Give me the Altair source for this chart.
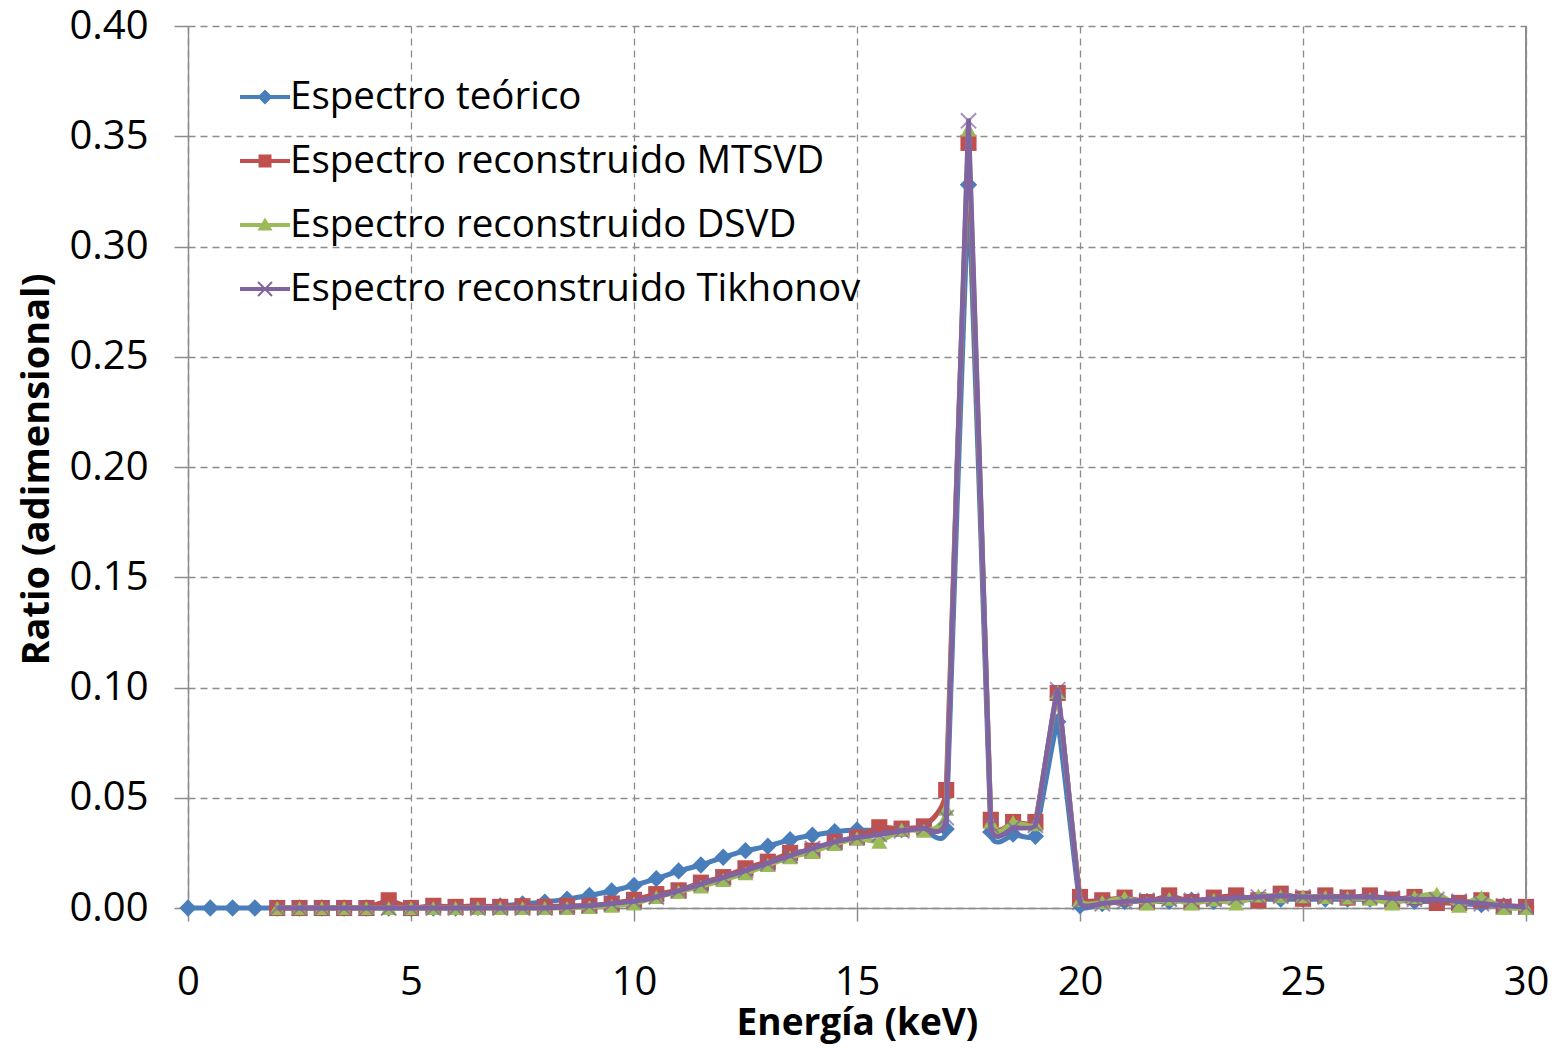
import altair as alt
import pandas as pd

# ---------------- data ----------------
energy = [i * 0.5 for i in range(61)]  # 0 .. 30 keV

teorico = [0, 0, 0, 0, 0, 0, 0, 0, 0, 0,
           0, 0, 0, 0.0003, 0.001, 0.0018, 0.0027, 0.004, 0.0057, 0.0077,
           0.0102, 0.0133, 0.0168, 0.0195, 0.023, 0.026, 0.028, 0.031, 0.033, 0.0346,
           0.0354, 0.0352, 0.0356, 0.036, 0.0358, 0.328, 0.0345, 0.0335, 0.0325, 0.0845,
           0.001, 0.002, 0.003, 0.003, 0.003, 0.0035, 0.003, 0.0035, 0.004, 0.004,
           0.004, 0.004, 0.004, 0.004, 0.0035, 0.003, 0.003, 0.002, 0.0015, 0.001,
           0.0005]

mtsvd = [None, None, None, None, 0, 0, 0, 0, 0, 0.0035,
         0, 0.001, 0.0005, 0.001, 0.0005, 0.0008, 0.0005, 0.001, 0.001, 0.002,
         0.0037, 0.0063, 0.008, 0.0115, 0.014, 0.018, 0.021, 0.025, 0.026, 0.030,
         0.032, 0.0366, 0.036, 0.037, 0.0535, 0.347, 0.040, 0.039, 0.039, 0.0975,
         0.005, 0.0035, 0.0047, 0.0027, 0.0057, 0.0027, 0.0047, 0.0057, 0.0035, 0.0065,
         0.0042, 0.0057, 0.0047, 0.0057, 0.0038, 0.005, 0.0023, 0.0023, 0.0035, 0.0005,
         0.0005]

dsvd = [None, None, None, None, 0, 0, 0, 0, 0, 0,
        0, 0, 0, 0, 0, 0, 0, 0, 0.0005, 0.001,
        0.002, 0.005, 0.0074, 0.0097, 0.0127, 0.0157, 0.0195, 0.023, 0.0255, 0.029,
        0.0316, 0.030, 0.0356, 0.035, 0.045, 0.353, 0.039, 0.039, 0.038, 0.098,
        0.0036, 0.0027, 0.0047, 0.002, 0.0042, 0.002, 0.0038, 0.002, 0.0057, 0.0053,
        0.0053, 0.005, 0.0047, 0.0042, 0.002, 0.005, 0.0065, 0.001, 0.005, 0.0,
        0.0]

tikhonov = [None, None, None, None, 0, 0, 0, 0, 0, 0,
            0, 0, 0, 0, 0, 0, 0, 0.0005, 0.001, 0.002,
            0.003, 0.005, 0.0078, 0.0108, 0.0138, 0.017, 0.0203, 0.0238, 0.027, 0.030,
            0.032, 0.0333, 0.035, 0.0362, 0.041, 0.357, 0.0375, 0.0365, 0.0375, 0.099,
            0.0025, 0.002, 0.003, 0.0035, 0.004, 0.0035, 0.004, 0.0045, 0.005, 0.0055,
            0.005, 0.005, 0.005, 0.005, 0.0045, 0.004, 0.0038, 0.003, 0.002, 0.001,
            0.0005]

series_names = ["Espectro teórico", "Espectro reconstruido MTSVD",
                "Espectro reconstruido DSVD", "Espectro reconstruido Tikhonov"]
series_values = [teorico, mtsvd, dsvd, tikhonov]
y_ticks = [0, 0.05, 0.10, 0.15, 0.20, 0.25, 0.30, 0.35, 0.40]
x_ticks = [0, 5, 10, 15, 20, 25, 30]

# ---------------- styles ----------------
colors = ["#4A7EBB", "#C0504D", "#9BBB59", "#8064A2"]
marker_shapes = ["diamond", "square", "triangle-up", "M-1,-1L1,1M-1,1L1,-1"]
marker_sizes = [300, 260, 260, 230]

LINE = "M-1,-0.08L1,-0.08L1,0.08L-1,0.08Z"
legend_paths = [
    LINE + " M0,-0.3L0.3,0L0,0.3L-0.3,0Z",
    LINE + " M-0.26,-0.26L0.26,-0.26L0.26,0.26L-0.26,0.26Z",
    LINE + " M0,-0.3L0.3,0.22L-0.3,0.22Z",
    LINE + " M-0.252,-0.308L0.308,0.252L0.252,0.308L-0.308,-0.252Z"
           " M-0.252,0.308L-0.308,0.252L0.252,-0.308L0.308,-0.252Z",
]

rows = []
for name, vals in zip(series_names, series_values):
    for e, v in zip(energy, vals):
        if v is not None:
            rows.append({"Energia": e, "Ratio": v, "Serie": name})
df = pd.DataFrame(rows)

FONT = "Open Sans"
W, H = 1338, 882

x_enc = alt.X("Energia:Q", scale=alt.Scale(domain=[0, 30], nice=False),
              axis=alt.Axis(values=x_ticks, title="Energía (keV)", format="d",
                            tickSize=13, labelPadding=41, labelFlush=False,
                            titleX=W / 2, titleY=126, titleBaseline="alphabetic",
                            titleAlign="center"))
y_enc = alt.Y("Ratio:Q", scale=alt.Scale(domain=[0, 0.4], nice=False),
              axis=alt.Axis(values=y_ticks, format=".2f", title="Ratio (adimensional)",
                            tickSize=14, labelPadding=26, labelFlush=False,
                            titleX=-151, titleY=H / 2 + 2, titleAngle=270,
                            titleFontSize=38,
                            titleAlign="center", titleBaseline="middle"))

base = alt.Chart(df)
layers = []
for name, col, shp, sz in zip(series_names, colors, marker_shapes, marker_sizes):
    sub = base.transform_filter(alt.datum.Serie == name)
    layers.append(sub.mark_line(interpolate="cardinal", tension=0.8, strokeWidth=5, color=col)
                  .encode(x=x_enc, y=y_enc))
    if shp.startswith("M"):
        pts = sub.mark_point(shape=shp, filled=False, size=sz, stroke=col, strokeWidth=2)
    else:
        pts = sub.mark_point(shape=shp, filled=True, size=sz, color=col, opacity=1)
    layers.append(pts.encode(x=x_enc, y=y_enc))

# right border of plot area
border = alt.Chart(df).mark_rule(color="#8C8C8C", strokeWidth=1.5).encode(
    x=alt.datum(30), y=alt.value(0), y2=alt.value(H))

# legend-only layer (no visible data)
legend_layer = alt.Chart(df).transform_filter("false").mark_point(
    filled=True, size=2500, opacity=1).encode(
    x=x_enc, y=y_enc,
    color=alt.Color("Serie:N", scale=alt.Scale(domain=series_names, range=colors),
                    legend=alt.Legend(title=None, orient="none", legendX=52, legendY=46,
                                      direction="vertical")),
    shape=alt.Shape("Serie:N", scale=alt.Scale(domain=series_names, range=legend_paths),
                    legend=alt.Legend(title=None, orient="none", legendX=52, legendY=46,
                                      direction="vertical")),
)

chart = alt.layer(*layers, border, legend_layer).properties(
    width=W, height=H,
    autosize=alt.AutoSizeParams(type="none"),
    padding={"left": 188, "top": 26, "right": 29, "bottom": 140},
).configure_view(stroke=None).configure_axis(
    labelFont=FONT, labelFontSize=40, labelColor="#000000",
    titleFont=FONT, titleFontSize=37, titleFontWeight="bold", titleColor="#000000",
    gridColor="#8C8C8C", gridDash=[7, 5], gridWidth=1.3,
    domainColor="#8C8C8C", domainWidth=1.5,
    tickColor="#8C8C8C", tickWidth=1.5,
).configure_legend(
    labelFont=FONT, labelFontSize=38.5, labelColor="#000000", labelOffset=0,
    symbolSize=2500, symbolStrokeWidth=0, symbolOpacity=1, rowPadding=19,
    padding=0, labelLimit=1000,
)

chart.save("out.html", embed_options={"renderer": "svg", "actions": False})
